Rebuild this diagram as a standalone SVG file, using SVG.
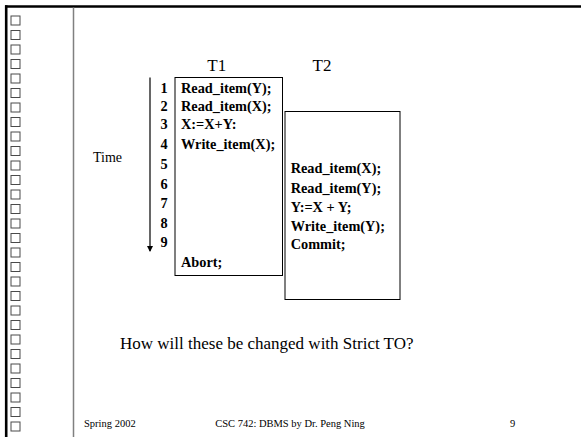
<svg xmlns="http://www.w3.org/2000/svg" width="581" height="437" viewBox="0 0 581 437">
<defs>
<style>
.t{font-family:"Liberation Serif","Times New Roman",serif;fill:#000}
.b{font-weight:bold;font-size:14.3px}
.sq{fill:#fff;stroke:#4a4a4a;stroke-width:1}
.box{fill:#fff;stroke:#000;stroke-width:1}
.conn{stroke:#000;stroke-width:1.2;fill:none}
</style>
<marker id="ah" markerWidth="6" markerHeight="6" refX="5" refY="3" orient="auto" markerUnits="userSpaceOnUse">
<path d="M0,0 L6,3 L0,6 Z" fill="#000"/>
</marker>
<rect id="s" class="sq" x="11" y="0" width="9" height="9"/>
</defs>
<rect width="581" height="437" fill="#fff"/>
<g id="frame">
<line x1="5" y1="6.5" x2="581" y2="6.5" stroke="#000" stroke-width="2.6"/>
<line x1="6.2" y1="5.2" x2="6.2" y2="437" stroke="#000" stroke-width="2.6"/>
<line x1="73.5" y1="7.5" x2="73.5" y2="437" stroke="#808080" stroke-width="1.5"/>
<use href="#s" y="16"/><use href="#s" y="30.5"/><use href="#s" y="45"/><use href="#s" y="59.5"/>
<use href="#s" y="74"/><use href="#s" y="88.5"/><use href="#s" y="103"/><use href="#s" y="117.5"/>
<use href="#s" y="132"/><use href="#s" y="146.5"/><use href="#s" y="161"/><use href="#s" y="175.5"/>
<use href="#s" y="190"/><use href="#s" y="204.5"/><use href="#s" y="219"/><use href="#s" y="233.5"/>
<use href="#s" y="248"/><use href="#s" y="262.5"/><use href="#s" y="277"/><use href="#s" y="291.5"/>
<use href="#s" y="306"/><use href="#s" y="320.5"/><use href="#s" y="335"/><use href="#s" y="349.5"/>
<use href="#s" y="364"/><use href="#s" y="378.5"/><use href="#s" y="393"/><use href="#s" y="407.5"/>
<use href="#s" y="422"/>
</g>
<g id="connectors">
<line class="conn" x1="150" y1="77.5" x2="150" y2="251" marker-end="url(#ah)"/>
</g>
<g id="time">
<text class="t" x="93" y="161.5" font-size="14">Time</text>
<g class="t b">
<text x="160.5" y="92.7">1</text>
<text x="160.5" y="110.7">2</text>
<text x="160.5" y="128.7">3</text>
<text x="160.5" y="149">4</text>
<text x="160.5" y="168.8">5</text>
<text x="160.5" y="188.8">6</text>
<text x="160.5" y="208.3">7</text>
<text x="160.5" y="228.3">8</text>
<text x="160.5" y="247">9</text>
</g>
</g>
<g id="T1">
<text class="t" x="216.7" y="70.7" font-size="17" text-anchor="middle">T1</text>
<rect class="box" x="175" y="77.5" width="107.5" height="198"/>
<g class="t b">
<text x="181" y="92.7">Read_item(Y);</text>
<text x="181" y="110.7">Read_item(X);</text>
<text x="181" y="128.7">X:=X+Y:</text>
<text x="181" y="149">Write_item(X);</text>
<text x="181" y="267.3">Abort;</text>
</g>
</g>
<g id="T2">
<text class="t" x="322" y="70.7" font-size="17" text-anchor="middle">T2</text>
<rect class="box" x="285" y="111.5" width="115" height="188"/>
<g class="t b">
<text x="290.7" y="173.3">Read_item(X);</text>
<text x="290.7" y="192.5">Read_item(Y);</text>
<text x="290.7" y="211.5">Y:=X + Y;</text>
<text x="290.7" y="230.7">Write_item(Y);</text>
<text x="290.7" y="249">Commit;</text>
</g>
</g>
<g id="question">
<text class="t" x="120" y="349" font-size="17">How will these be changed with Strict TO?</text>
</g>
<g id="footer" class="t" font-size="10.5">
<text x="84" y="427">Spring 2002</text>
<text x="290" y="427" text-anchor="middle">CSC 742: DBMS by Dr. Peng Ning</text>
<text x="510" y="427">9</text>
</g>
</svg>
